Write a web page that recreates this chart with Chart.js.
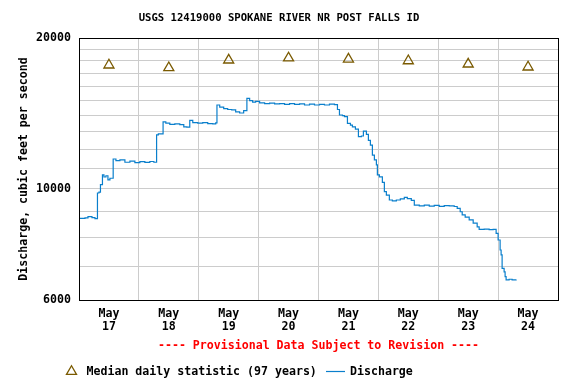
<!DOCTYPE html>
<html>
<head>
<meta charset="utf-8">
<style>
  html, body { margin: 0; padding: 0; background: #fff; }
  #wrap { width: 576px; height: 384px; }
</style>
<script src="https://cdn.jsdelivr.net/npm/chart.js@4"></script>
</head>
<body>
<div id="wrap"><canvas id="flow"></canvas></div>
<script>
// Data (hours since May 17 00:00)
const monthLabel = 'May';
const dayLabels = ['17', '18', '19', '20', '21', '22', '23', '24'];
const xTickHours = [0, 12, 24, 36, 48, 60, 72, 84, 96, 108, 120, 132, 144, 156, 168, 180, 192];
const yGridValues = [6000, 7000, 8000, 9000, 10000, 11000, 12000, 13000, 14000, 15000, 16000, 17000, 18000, 19000, 20000];
const yLabelValues = [6000, 10000, 20000];

const medianHours = [12, 36, 60, 84, 108, 132, 156, 180];
const medianValues = [17660, 17440, 18070, 18240, 18150, 18010, 17740, 17500];

const flowHours = [
  0, 2.4, 3.6, 5.2, 6.4, 7.4, 8, 8.6, 9.4, 10,
  10.8, 11.6, 12.4, 13.7, 14.8, 16.4, 18.4, 20.4, 22.4, 24.4,
  26.4, 28.4, 30, 31.1, 31.8, 33.7, 34.8, 36.4, 38.4, 40.4,
  42, 43.2, 44.4, 45.6, 47.6, 49.6, 51.6, 53.6, 54.8, 55.3,
  56.4, 58, 59.6, 61.2, 62.8, 64.4, 66, 67.3, 68.4, 69.6,
  70.8, 72.4, 74.4, 76.4, 78.4, 80.4, 82.4, 84.4, 86.4, 88.4,
  90.4, 92.4, 94.4, 96.4, 98.4, 100.4, 102.4, 103.6, 104.4, 105.6,
  106.4, 107.6, 108.8, 109.6, 110.8, 112, 113.2, 114, 115.2, 116,
  116.8, 117.6, 118.4, 119.2, 119.6, 120.4, 121.6, 122.4, 123.2, 124.4,
  125.6, 127.2, 128.8, 130.4, 131.6, 133.2, 134.4, 136.4, 138.4, 140.4,
  142.4, 144.4, 146.4, 148.4, 150.4, 151.6, 152.8, 153.6, 154.8, 156.4,
  158, 159.6, 160.4, 162.4, 164.4, 166, 167.2, 168, 168.8, 169.2,
  169.6, 170.4, 170.8, 171.2, 172.4, 173.6, 175.2
];
const flowValues = [
  8730, 8750, 8800, 8760, 8720, 9810, 9850, 10200, 10660, 10560,
  10620, 10420, 10500, 11470, 11380, 11420, 11300, 11360, 11280, 11330,
  11290, 11340, 11300, 12810, 12870, 13610, 13520, 13450, 13480, 13430,
  13300, 13280, 13700, 13560, 13520, 13560, 13500, 13480, 13540, 14700,
  14560, 14460, 14400, 14380, 14250, 14170, 14320, 15160, 15000, 14900,
  14950, 14850, 14800, 14830, 14780, 14800, 14750, 14800, 14740, 14780,
  14700, 14760, 14700, 14750, 14700, 14760, 14730, 14400, 14040, 14000,
  13930, 13510, 13400, 13300, 13160, 12710, 12750, 13040, 12850, 12500,
  12230, 11680, 11420, 11160, 10660, 10570, 10300, 9870, 9720, 9500,
  9460, 9500, 9550, 9620, 9560, 9480, 9280, 9250, 9280, 9240,
  9270, 9230, 9260, 9250, 9220, 9145, 9000, 8870, 8780, 8670,
  8540, 8400, 8300, 8310, 8290, 8300, 8150, 7905, 7550, 7380,
  6940, 6830, 6680, 6580, 6600, 6580, 6590
];

const FONT = '"DejaVu Sans Mono", monospace';
const medianColor = '#7a5a00';
const flowColor = '#0a7fcc';
const gridColor = '#cccccc';

// frame around the plot + the footer lines
const framePlugin = {
  id: 'frame',
  afterDraw(chart) {
    const ctx = chart.ctx;
    const a = chart.chartArea;
    ctx.save();
    ctx.strokeStyle = '#000';
    ctx.lineWidth = 1;
    ctx.strokeRect(Math.round(a.left) + 0.5, Math.round(a.top) + 0.5,
      Math.round(a.right - a.left), Math.round(a.bottom - a.top));

    ctx.font = 'bold 11.6px ' + FONT;
    ctx.textBaseline = 'middle';
    ctx.fillStyle = '#ff0000';
    ctx.textAlign = 'center';
    ctx.fillText('---- Provisional Data Subject to Revision ----', (a.left + a.right) / 2, 346);

    // legend
    ctx.textAlign = 'left';
    ctx.fillStyle = 'rgba(0,0,0,0)';
    ctx.strokeStyle = medianColor;
    ctx.lineWidth = 1.3;
    Chart.helpers.drawPoint(ctx, {pointStyle: 'triangle', radius: 5.8, rotation: 0, borderWidth: 1.3}, 71.5, 371.5);
    ctx.fillStyle = '#000';
    ctx.fillText('Median daily statistic (97 years)', 86.5, 372);
    ctx.beginPath();
    ctx.strokeStyle = flowColor;
    ctx.lineWidth = 1.2;
    ctx.moveTo(326, 371.5);
    ctx.lineTo(345, 371.5);
    ctx.stroke();
    ctx.fillText('Discharge', 350, 372);
    ctx.restore();
  }
};

new Chart(document.getElementById('flow'), {
  type: 'line',
  data: {
    datasets: [{
      label: 'Median daily statistic (97 years)',
      data: medianHours.map((h, i) => ({x: h, y: medianValues[i]})),
      showLine: false,
      pointStyle: 'triangle',
      pointRadius: 5.8,
      pointBorderColor: medianColor,
      pointBackgroundColor: 'rgba(0,0,0,0)',
      pointBorderWidth: 1.3
    }, {
      label: 'Discharge',
      data: flowHours.map((h, i) => ({x: h, y: flowValues[i]})),
      borderColor: flowColor,
      borderWidth: 1.2,
      pointRadius: 0,
      stepped: true,
      fill: false
    }]
  },
  options: {
    responsive: true,
    maintainAspectRatio: false,
    animation: false,
    layout: { padding: { left: 0, right: 18, top: 0, bottom: 0 } },
    plugins: {
      legend: { display: false },
      tooltip: { enabled: false },
      title: {
        display: true,
        text: 'USGS 12419000 SPOKANE RIVER NR POST FALLS ID',
        color: '#000',
        font: { family: FONT, size: 10.6, weight: 'bold' },
        padding: { top: 12, bottom: 13.3 }
      }
    },
    scales: {
      x: {
        type: 'linear',
        min: 0,
        max: 192,
        afterBuildTicks: (scale) => { scale.ticks = xTickHours.map(v => ({value: v})); },
        afterFit: (scale) => { scale.height = 84; },
        border: { display: false },
        grid: {
          drawTicks: false,
          color: (c) => (c.tick && c.tick.value % 24 === 0) ? gridColor : 'rgba(0,0,0,0)'
        },
        ticks: {
          autoSkip: false,
          maxRotation: 0,
          padding: 8,
          color: '#000',
          font: { family: FONT, size: 11.6, weight: 'bold', lineHeight: 1.07 },
          callback: (v) => (v % 24 === 12) ? [monthLabel, dayLabels[Math.floor(v / 24)]] : ''
        }
      },
      y: {
        type: 'logarithmic',
        min: 6000,
        max: 20000,
        afterBuildTicks: (scale) => { scale.ticks = yGridValues.map(v => ({value: v})); },
        afterFit: (scale) => { scale.width = 79; },
        border: { display: false },
        grid: { drawTicks: false, color: gridColor },
        title: {
          display: true,
          text: 'Discharge, cubic feet per second',
          color: '#000',
          font: { family: FONT, size: 11.6, weight: 'bold' },
          padding: { top: 17, bottom: 0 }
        },
        ticks: {
          autoSkip: false,
          padding: 8,
          color: '#000',
          font: { family: FONT, size: 11.6, weight: 'bold' },
          callback: (v) => yLabelValues.includes(v) ? String(v) : ''
        }
      }
    }
  },
  plugins: [framePlugin]
});
</script>
</body>
</html>
